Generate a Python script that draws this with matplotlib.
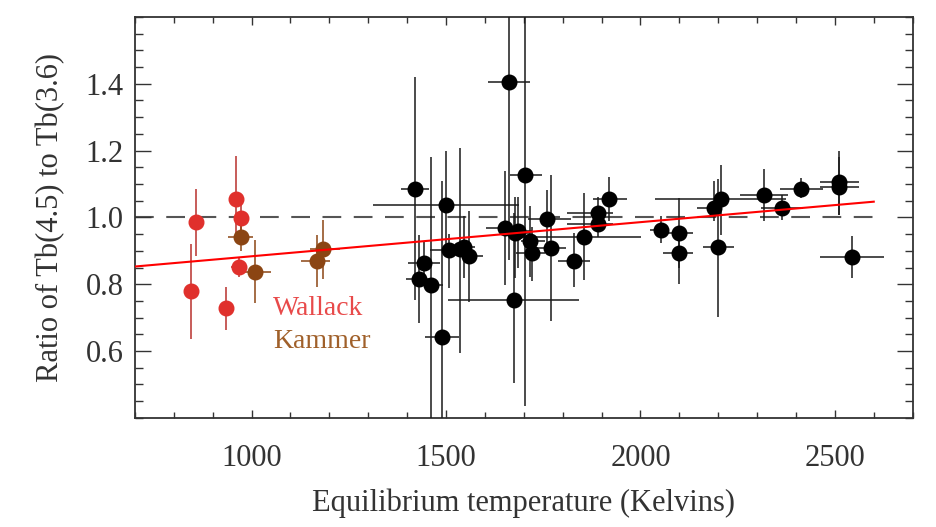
import numpy as np
import matplotlib
matplotlib.use("Agg")
import matplotlib.pyplot as plt
from matplotlib.ticker import MultipleLocator

plt.rcParams['font.family'] = ['Liberation Serif', 'DejaVu Serif']

# Spitzer sample (black points): Teq, ratio, ratio range, Teq range
teq = [1421, 1431, 1444, 1461, 1489, 1501, 1507, 1535, 1546, 1559,
       1651, 1662, 1674, 1677, 1685, 1704, 1717, 1720, 1760, 1771,
       1829, 1854, 1892, 1892, 1919, 2054, 2098, 2098, 2188, 2206,
       2199, 2318, 2364, 2414, 2511, 2511, 2545]
ratio = [1.086, 0.815, 0.863, 0.797, 0.643, 1.038, 0.901, 0.905, 0.911, 0.885,
         0.968, 1.405, 0.752, 0.953, 0.958, 1.128, 0.930, 0.893, 0.995, 0.908,
         0.871, 0.941, 1.013, 0.981, 1.054, 0.961, 0.953, 0.893, 1.028, 1.055,
         0.910, 1.067, 1.029, 1.086, 1.106, 1.091, 0.881]
ratio_lo = [0.753, 0.683, 0.800, 0.380, 0.380, 0.880, 0.790, 0.595, 0.818, 0.748,
            0.798, 0.873, 0.505, 0.820, 0.850, 0.435, 0.823, 0.810, 0.923, 0.690,
            0.793, 0.813, 0.960, 0.940, 0.988, 0.923, 0.800, 0.850, 0.990, 0.948,
            0.703, 0.988, 0.991, 1.058, 1.008, 1.008, 0.818]
ratio_hi = [1.420, 0.946, 0.930, 1.180, 1.108, 1.200, 0.950, 1.208, 1.003, 1.020,
            1.138, 1.700, 1.013, 1.060, 1.060, 1.700, 1.033, 0.970, 1.081, 1.128,
            0.953, 1.073, 1.060, 1.020, 1.120, 1.003, 1.058, 0.940, 1.110, 1.158,
            1.116, 1.145, 1.068, 1.118, 1.200, 1.180, 0.945]
teq_lo = [1385, 1398, 1403, 1441, 1445, 1311, 1460, 1505, 1515, 1531,
          1604, 1608, 1505, 1640, 1650, 1664, 1694, 1680, 1711, 1733,
          1788, 1690, 1810, 1812, 1877, 2024, 2058, 2058, 2145, 2037,
          2160, 2255, 2311, 2358, 2463, 2463, 2463]
teq_hi = [1457, 1463, 1484, 1493, 1534, 1688, 1540, 1560, 1575, 1595,
          1690, 1715, 1842, 1715, 1720, 1748, 1754, 1754, 1822, 1808,
          1870, 2001, 1930, 1930, 1966, 2071, 2135, 2135, 2200, 2375,
          2240, 2380, 2418, 2470, 2561, 2561, 2626]

# Wallack (red)
w_teq = [844, 857, 934, 960, 967, 974]
w_ratio = [0.780, 0.987, 0.728, 1.056, 0.853, 0.999]
w_lo = [0.636, 0.883, 0.663, 0.930, 0.823, 0.960]
w_hi = [0.920, 1.086, 0.791, 1.185, 0.881, 1.040]
w_teq_lo = [844, 857, 934, 960, 948, 974]
w_teq_hi = [844, 857, 934, 960, 987, 974]

# Kammer (brown)
k_teq = [972, 1010, 1167, 1184]
k_ratio = [0.941, 0.836, 0.869, 0.905]
k_lo = [0.898, 0.743, 0.793, 0.817]
k_hi = [0.990, 0.933, 0.948, 0.993]
k_teq_lo = [940, 978, 1128, 1150]
k_teq_hi = [1004, 1051, 1201, 1227]

# linear fit
fit_x = [700, 2600]
fit_y = [0.853, 1.047]


def errs(v, lo, hi):
    v, lo, hi = np.array(v), np.array(lo), np.array(hi)
    return [v - lo, hi - v]


fig = plt.figure(figsize=(9.37, 5.27), dpi=100)
ax = fig.add_axes([0.144, 0.207, 0.830, 0.761])

ax.plot([700, 2600], [1.0, 1.0], ls=(0, (9, 6)), color="#555555", lw=1.5, zorder=1)
ax.plot(fit_x, fit_y, color="red", lw=1.5, zorder=4)

ax.errorbar(teq, ratio, yerr=errs(ratio, ratio_lo, ratio_hi),
            xerr=errs(teq, teq_lo, teq_hi), fmt="o", color="black",
            ecolor="#1a1a1a", elinewidth=1.1, ms=10.5, capsize=0, zorder=3)
ax.errorbar(w_teq, w_ratio, yerr=errs(w_ratio, w_lo, w_hi),
            xerr=errs(w_teq, w_teq_lo, w_teq_hi), fmt="o", color="#e0302c",
            ecolor="#b8302c", elinewidth=1.1, ms=10.5, capsize=0, zorder=3)
ax.errorbar(k_teq, k_ratio, yerr=errs(k_ratio, k_lo, k_hi),
            xerr=errs(k_teq, k_teq_lo, k_teq_hi), fmt="o", color="#8b4513",
            ecolor="#8b4513", elinewidth=1.1, ms=10.5, capsize=0, zorder=3)

ax.text(1055, 0.726, "Wallack", color="#e84a4a", fontsize=20, va="center")
ax.text(1055, 0.630, "Kammer", color="#a0602a", fontsize=20, va="center")

ax.set_xlim(700, 2700)
ax.set_ylim(0.4, 1.6)
ax.xaxis.set_major_locator(MultipleLocator(500))
ax.xaxis.set_minor_locator(MultipleLocator(100))
ax.yaxis.set_major_locator(MultipleLocator(0.2))
ax.yaxis.set_minor_locator(MultipleLocator(0.05))
ax.set_yticks([0.6, 0.8, 1.0, 1.2, 1.4])
ax.set_yticklabels(["0.6", "0.8", "1.0", "1.2", "1.4"])

ax.tick_params(axis="both", which="both", direction="in", top=True, right=True,
               color="#333333", labelsize=22, labelcolor="#333333")
ax.tick_params(axis="x", which="major", length=6, width=1, pad=19)
ax.tick_params(axis="x", which="minor", length=4, width=1)
ax.tick_params(axis="y", which="major", length=11.5, width=1, pad=8)
ax.tick_params(axis="y", which="minor", length=5.5, width=1)
for s in ax.spines.values():
    s.set_color("#333333")
    s.set_linewidth(1.3)

ax.set_xlabel("Equilibrium temperature (Kelvins)", fontsize=22, color="#333333", labelpad=11)
ax.set_ylabel("Ratio of Tb(4.5) to Tb(3.6)", fontsize=22, color="#333333", labelpad=15)

fig.savefig("out.png", dpi=100)
